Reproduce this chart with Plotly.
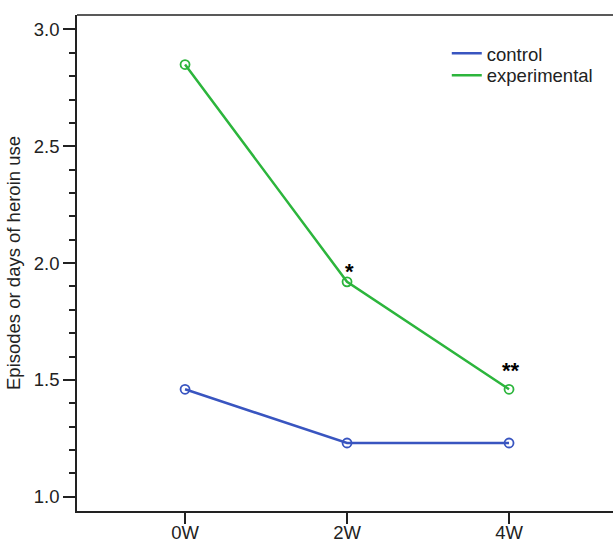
import plotly.graph_objects as go

weeks = ["0W", "2W", "4W"]
control = [1.46, 1.23, 1.23]
experimental = [2.85, 1.92, 1.46]
sig_labels = ["", "*", "**"]

blue = "#3955c0"
green = "#2cb53c"
font = "Arial, Liberation Sans, sans-serif"
ink = "#222"

fig = go.Figure()
series = [("control", control, blue, "legend", 0.96), ("experimental", experimental, green, "legend2", 0.916)]
for name, vals, col, leg, _ in series:
    fig.add_trace(go.Scatter(x=[0, 1, 2], y=vals, mode="lines+markers",
                             line=dict(color=col, width=2.5),
                             marker=dict(symbol="circle-open", size=9, color=col, line=dict(width=1.8)),
                             showlegend=False, hoverinfo="skip"))
    fig.add_trace(go.Scatter(x=[None], y=[None], mode="lines", name=name, legend=leg,
                             line=dict(color=col, width=2.5)))

shifts = [0, -4, 4]
for i, s in enumerate(sig_labels):
    if s:
        fig.add_annotation(x=i, y=experimental[i], text="<b>" + s + "</b>", showarrow=False,
                           yshift=shifts[i], xshift=2, yanchor="bottom",
                           font=dict(size=22, color="black", family=font))

# top frame line of the plot box
fig.add_shape(type="line", xref="paper", yref="paper", x0=0, x1=1, y0=1, y1=1,
              line=dict(color=ink, width=1.5))

leg_common = dict(xanchor="left", yanchor="top", font=dict(size=18.5, color=ink),
                  bgcolor="rgba(0,0,0,0)", itemwidth=30)

fig.update_layout(
    width=620, height=543,
    margin=dict(l=77, r=0, t=15, b=32),
    plot_bgcolor="white", paper_bgcolor="white",
    font=dict(family=font, size=18.5, color=ink),
    legend=dict(x=0.681, y=series[0][4], **leg_common),
    legend2=dict(x=0.681, y=series[1][4], **leg_common),
    xaxis=dict(range=[-0.667, 2.685], tickvals=[0, 1, 2], ticktext=weeks, automargin=False,
               showgrid=False, zeroline=False, showline=True, linecolor=ink, linewidth=1.5,
               ticks="outside", ticklen=11, tickwidth=1.5, tickcolor=ink,
               ticklabelstandoff=-7,
               tickfont=dict(size=18.5, color=ink)),
    yaxis=dict(range=[0.939, 3.062], tickvals=[1.0, 1.5, 2.0, 2.5, 3.0], automargin=False,
               ticktext=["1.0", "1.5", "2.0", "2.5", "3.0"],
               showgrid=False, zeroline=False, showline=True, linecolor=ink, linewidth=1.5,
               ticks="outside", ticklen=12, tickwidth=1.5, tickcolor=ink,
               minor=dict(dtick=0.1, tick0=1.0, ticks="outside", ticklen=6, tickwidth=1.5, tickcolor=ink),
               tickfont=dict(size=18.5, color=ink),
               title=dict(text="Episodes or days of heroin use", font=dict(size=18.5, color=ink), standoff=8)),
)

fig.write_html("out.html", config={"displayModeBar": False},
               post_script="document.body.style.margin='0';document.body.style.overflow='hidden';")
